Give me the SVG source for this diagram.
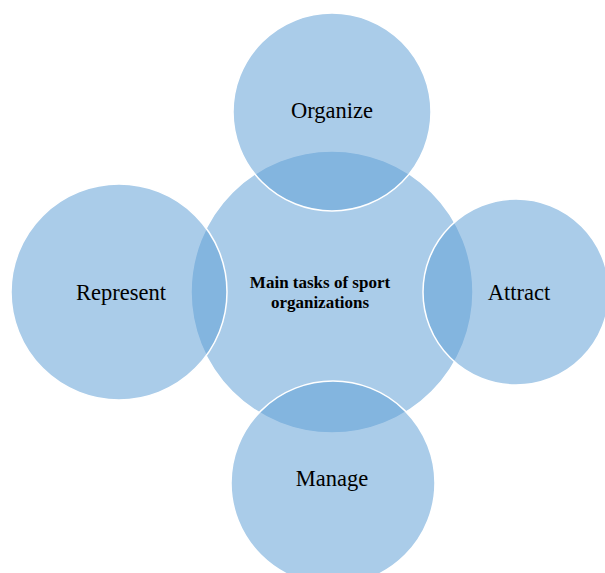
<svg xmlns="http://www.w3.org/2000/svg" width="605" height="573" viewBox="0 0 605 573">
<style>
.c{fill:rgb(98,160,214);fill-opacity:0.54;stroke:#ffffff;stroke-width:1.5}
.t{font-family:"Liberation Serif","Times New Roman",serif;font-size:22.5px;fill:#000;text-anchor:middle}
.b{font-family:"Liberation Serif","Times New Roman",serif;font-size:17px;font-weight:bold;fill:#000;text-anchor:middle}
</style>
<rect width="605" height="573" fill="#ffffff"/>
<g id="center"><circle class="c" cx="332" cy="292" r="141"/></g>
<g id="organize"><circle class="c" cx="332" cy="112" r="99"/><text class="t" x="332" y="118">Organize</text></g>
<g id="represent"><circle class="c" cx="119" cy="292" r="108"/><text class="t" x="121" y="300">Represent</text></g>
<g id="attract"><circle class="c" cx="516" cy="292" r="93"/><text class="t" x="519" y="300">Attract</text></g>
<g id="manage"><circle class="c" cx="333" cy="483" r="102"/><text class="t" x="332" y="486">Manage</text></g>
<g id="center-label"><text class="b" x="320" y="288">Main tasks of sport</text><text class="b" x="320" y="308">organizations</text></g>
<g id="connectors"></g>
</svg>
